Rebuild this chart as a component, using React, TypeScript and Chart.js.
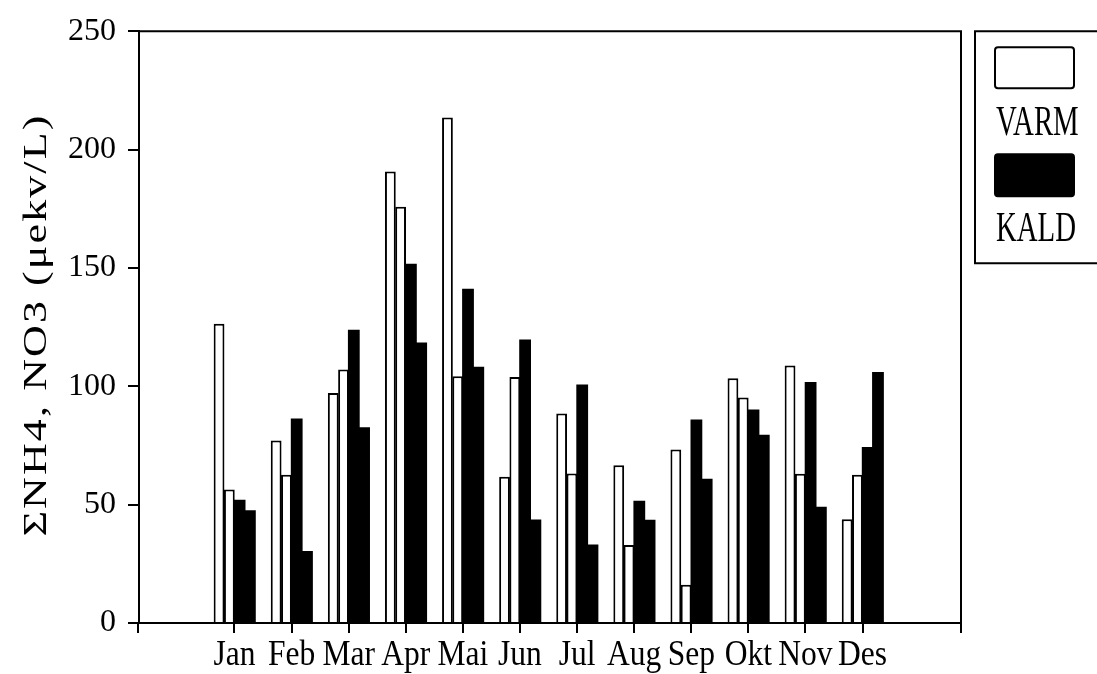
import React, { useEffect, useRef } from 'react';
import { Chart, registerables } from 'chart.js';

Chart.register(...registerables);

// ---- data ----
const months = ['Jan', 'Feb', 'Mar', 'Apr', 'Mai', 'Jun', 'Jul', 'Aug', 'Sep', 'Okt', 'Nov', 'Des'];
const varmA = [126.4, 77.1, 97.2, 190.7, 213.5, 61.8, 88.5, 66.6, 73.3, 103.4, 108.8, 43.8];
const varmB = [56.4, 62.6, 107.1, 175.8, 104.2, 103.9, 63.2, 32.9, 16.2, 95.3, 63.0, 62.6];
const kaldA = [51.9, 86.2, 123.7, 151.5, 141.0, 119.5, 100.5, 51.4, 85.8, 90.0, 101.6, 74.1];
const kaldB = [47.4, 30.2, 82.5, 118.3, 108.0, 43.5, 32.9, 43.4, 60.7, 79.3, 48.9, 105.8];
const seriesNames = ['VARM', 'KALD'];
const yTickValues = [0, 50, 100, 150, 200, 250];
const yTitle = 'ΣNH4, NO3 (μekv/L)';

// ---- layout constants ----
const W = 1097;
const H = 674;
const X_MIN = -0.672;
const X_MAX = 13.724;
const SERIF = '"Liberation Serif", "Times New Roman", serif';

const toPoints = (arr: number[]) => arr.map((v, i) => ({ x: i + 1, y: v }));

const decorPlugin = {
  id: 'decor',
  afterDraw(chart: any) {
    const { ctx, chartArea } = chart;
    const { left, top, right, bottom } = chartArea;
    ctx.save();
    ctx.strokeStyle = '#000';
    ctx.lineWidth = 2;
    // frame: top and right, plus small extensions below the x axis
    ctx.beginPath();
    ctx.moveTo(left - 1, top);
    ctx.lineTo(right, top);
    ctx.lineTo(right, bottom + 10);
    ctx.moveTo(left - 1, bottom);
    ctx.lineTo(left - 1, bottom + 10);
    ctx.stroke();

    // x category labels (condensed serif)
    const xs = chart.scales.x;
    ctx.fillStyle = '#000';
    ctx.font = `35px ${SERIF}`;
    ctx.textAlign = 'center';
    ctx.textBaseline = 'alphabetic';
    months.forEach((m, i) => {
      const px = xs.getPixelForValue(i + 1);
      ctx.save();
      ctx.translate(px, bottom + 42);
      ctx.scale(0.9, 1);
      ctx.fillText(m, 0, 0);
      ctx.restore();
    });

    // y axis title (wide, rotated)
    ctx.save();
    ctx.font = `34px ${SERIF}`;
    const sx = 1.3;
    const target = 423;
    const natural = ctx.measureText(yTitle).width * sx;
    if ('letterSpacing' in ctx) {
      const gap = Math.max(0, (target - natural) / (yTitle.length - 1) / sx);
      ctx.letterSpacing = `${gap.toFixed(2)}px`;
    }
    const tw = ctx.measureText(yTitle).width;
    ctx.translate(46, (top + bottom) / 2 - 2);
    ctx.rotate(-Math.PI / 2);
    ctx.scale(target / tw, 1);
    ctx.textAlign = 'center';
    ctx.fillText(yTitle, 0, 0);
    ctx.restore();

    // legend box
    const lx = right + 14;
    ctx.beginPath();
    ctx.rect(lx, top, W - lx + 10, 232);
    ctx.stroke();
    const sw = [
      { y: top + 16, h: 41, name: seriesNames[0], fill: chart.data.datasets[0].backgroundColor, textY: top + 104 },
      { y: top + 123, h: 42, name: seriesNames[1], fill: chart.data.datasets[2].backgroundColor, textY: top + 210 },
    ];
    sw.forEach((s) => {
      ctx.beginPath();
      if (ctx.roundRect) ctx.roundRect(lx + 20, s.y, 79, s.h, 3);
      else ctx.rect(lx + 20, s.y, 79, s.h);
      ctx.fillStyle = s.fill;
      ctx.fill();
      ctx.strokeStyle = '#000';
      ctx.stroke();
      ctx.save();
      ctx.fillStyle = '#000';
      ctx.font = `43px ${SERIF}`;
      ctx.textAlign = 'left';
      ctx.textBaseline = 'alphabetic';
      ctx.translate(lx + 21, s.textY);
      ctx.scale(0.67, 1);
      ctx.fillText(s.name, 0, 0);
      ctx.restore();
    });
    ctx.restore();
  },
};

export default function App() {
  const ref = useRef<HTMLCanvasElement | null>(null);

  useEffect(() => {
    if (!ref.current) return;
    const barStyle = (fill: string, outlined: boolean) => ({
      backgroundColor: fill,
      borderColor: '#000',
      borderWidth: outlined ? { top: 2, left: 2, right: 2, bottom: 0 } : 0,
      borderSkipped: 'start' as const,
      inflateAmount: outlined ? 0 : 0.5,
      categoryPercentage: 0.72,
      barPercentage: 1.05,
    });
    const chart = new Chart(ref.current, {
      type: 'bar',
      data: {
        datasets: [
          { label: seriesNames[0], data: toPoints(varmA), ...barStyle('#ffffff', true) },
          { label: seriesNames[0], data: toPoints(varmB), ...barStyle('#ffffff', true) },
          { label: seriesNames[1], data: toPoints(kaldA), ...barStyle('#000000', false) },
          { label: seriesNames[1], data: toPoints(kaldB), ...barStyle('#000000', false) },
        ] as any,
      },
      options: {
        animation: false,
        responsive: false,
        maintainAspectRatio: false,
        layout: { padding: { top: 25, right: 136, left: 0, bottom: 0 } },
        plugins: { legend: { display: false }, tooltip: { enabled: false }, title: { display: false } },
        scales: {
          x: {
            type: 'linear',
            min: X_MIN,
            max: X_MAX,
            offset: false,
            afterBuildTicks: (s: any) => {
              s.ticks = months.slice(1).map((_, i) => ({ value: i + 1.5 }));
            },
            afterFit: (s: any) => {
              s.height = 51;
            },
            ticks: { display: false },
            grid: { drawOnChartArea: false, drawTicks: true, tickLength: 10, color: '#000', lineWidth: 2 },
            border: { display: true, color: '#000', width: 2 },
          },
          y: {
            type: 'linear',
            min: 0,
            max: 250,
            afterBuildTicks: (s: any) => {
              s.ticks = yTickValues.map((v) => ({ value: v }));
            },
            afterFit: (s: any) => {
              s.width = 139;
            },
            ticks: { color: '#000', padding: 12, font: { family: SERIF, size: 32 } },
            grid: { drawOnChartArea: false, drawTicks: true, tickLength: 11, color: '#000', lineWidth: 2 },
            border: { display: true, color: '#000', width: 2 },
          },
        },
      } as any,
      plugins: [decorPlugin],
    });
    return () => chart.destroy();
  }, []);

  return (
    <div style={{ position: 'fixed', left: 0, top: 0, width: W, height: H, background: '#fff' }}>
      <canvas ref={ref} width={W} height={H} style={{ display: 'block', width: W, height: H }} />
    </div>
  );
}
